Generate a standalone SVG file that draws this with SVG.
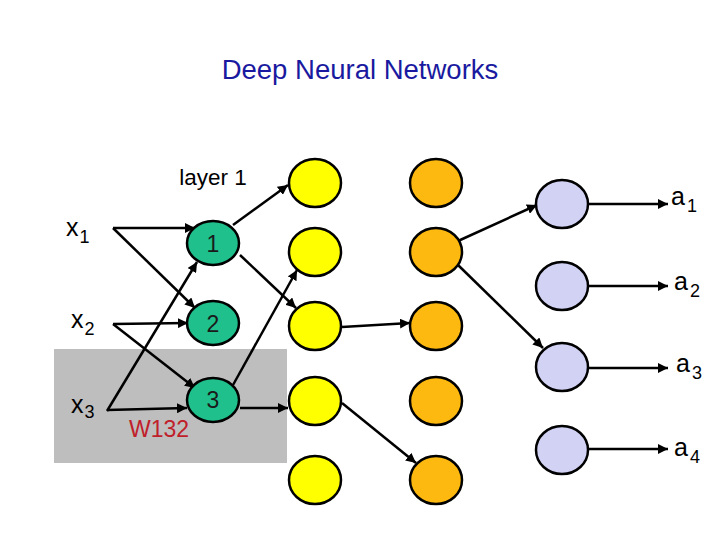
<svg xmlns="http://www.w3.org/2000/svg" width="720" height="540" viewBox="0 0 720 540">
<defs>
<marker id="ah" viewBox="0 0 10 10" refX="10" refY="5" markerWidth="4" markerHeight="4" orient="auto" markerUnits="strokeWidth">
<path d="M0,0 L10,5 L0,10 z" fill="#000"/>
</marker>
<style>
.t{font-family:"Liberation Sans",Arial,sans-serif;}
.n{stroke:#000;stroke-width:2.5;}
.g{fill:#1fc08c;}
.y{fill:#ffff00;}
.o{fill:#fdb90f;}
.l{fill:#d2d2f4;}
.c line{stroke:#000;stroke-width:2.5;marker-end:url(#ah);}
.d{font-size:23px;fill:#1a1a1a;text-anchor:middle;}
.v{font-size:25px;fill:#000;}
.s{font-size:18px;}
</style>
</defs>
<rect width="720" height="540" fill="#fff"/>
<rect x="54" y="349" width="233" height="114" fill="#bebebe"/>
<text class="t" x="360" y="79" font-size="27.5" fill="#1a1aa0" text-anchor="middle">Deep Neural Networks</text>
<text class="t" x="213" y="185" font-size="22.5" fill="#000" text-anchor="middle">layer 1</text>
<g class="c" id="connectors">
<line x1="113" y1="228" x2="195" y2="228"/>
<line x1="113" y1="228" x2="195" y2="308"/>
<line x1="113" y1="324" x2="188" y2="323"/>
<line x1="113" y1="324" x2="195" y2="388"/>
<line x1="107" y1="411" x2="197" y2="262"/>
<line x1="107" y1="410" x2="187" y2="408"/>
<line x1="233" y1="225" x2="288" y2="185"/>
<line x1="240" y1="255" x2="296" y2="308"/>
<line x1="233" y1="385" x2="297" y2="270"/>
<line x1="240" y1="408" x2="288" y2="408"/>
<line x1="342" y1="327" x2="410" y2="323"/>
<line x1="342" y1="403" x2="416" y2="463"/>
<line x1="458" y1="241" x2="537" y2="205"/>
<line x1="458" y1="265" x2="543" y2="348"/>
<line x1="588" y1="204" x2="668" y2="204"/>
<line x1="588" y1="286" x2="668" y2="286"/>
<line x1="588" y1="368" x2="668" y2="368"/>
<line x1="588" y1="449" x2="668" y2="449"/>
</g>
<g id="x1"><text class="t v" x="66" y="236">x<tspan class="s" dx="1" dy="7">1</tspan></text></g>
<g id="x2"><text class="t v" x="71" y="328">x<tspan class="s" dx="1" dy="7">2</tspan></text></g>
<g id="x3"><text class="t v" x="71" y="413">x<tspan class="s" dx="1" dy="5">3</tspan></text></g>
<g id="w132"><text class="t" x="129" y="437" font-size="23" fill="#c0202a">W132</text></g>
<g id="h1"><ellipse class="n g" cx="213" cy="243" rx="26" ry="22"/><text class="t d" x="213" y="252">1</text></g>
<g id="h2"><ellipse class="n g" cx="213" cy="323" rx="26" ry="22"/><text class="t d" x="213" y="332">2</text></g>
<g id="h3"><ellipse class="n g" cx="213" cy="400" rx="26" ry="22"/><text class="t d" x="213" y="408">3</text></g>
<g id="y1"><ellipse class="n y" cx="315" cy="183" rx="26" ry="24"/></g>
<g id="y2"><ellipse class="n y" cx="315" cy="252" rx="26" ry="24"/></g>
<g id="y3"><ellipse class="n y" cx="315" cy="326" rx="26" ry="24"/></g>
<g id="y4"><ellipse class="n y" cx="315" cy="401" rx="26" ry="24"/></g>
<g id="y5"><ellipse class="n y" cx="315" cy="480" rx="26" ry="24"/></g>
<g id="o1"><ellipse class="n o" cx="436" cy="183" rx="26" ry="24"/></g>
<g id="o2"><ellipse class="n o" cx="436" cy="252" rx="26" ry="24"/></g>
<g id="o3"><ellipse class="n o" cx="436" cy="326" rx="26" ry="24"/></g>
<g id="o4"><ellipse class="n o" cx="436" cy="401" rx="26" ry="24"/></g>
<g id="o5"><ellipse class="n o" cx="436" cy="480" rx="26" ry="24"/></g>
<g id="l1"><ellipse class="n l" cx="562" cy="204" rx="26" ry="24"/></g>
<g id="l2"><ellipse class="n l" cx="562" cy="286" rx="26" ry="24"/></g>
<g id="l3"><ellipse class="n l" cx="562" cy="367" rx="26" ry="24"/></g>
<g id="l4"><ellipse class="n l" cx="562" cy="450" rx="26" ry="24"/></g>
<g id="a1"><text class="t v" x="671" y="205">a<tspan class="s" dx="2" dy="7">1</tspan></text></g>
<g id="a2"><text class="t v" x="674" y="290">a<tspan class="s" dx="2" dy="7">2</tspan></text></g>
<g id="a3"><text class="t v" x="676" y="372">a<tspan class="s" dx="2" dy="7">3</tspan></text></g>
<g id="a4"><text class="t v" x="674" y="456">a<tspan class="s" dx="2" dy="7">4</tspan></text></g>
</svg>
